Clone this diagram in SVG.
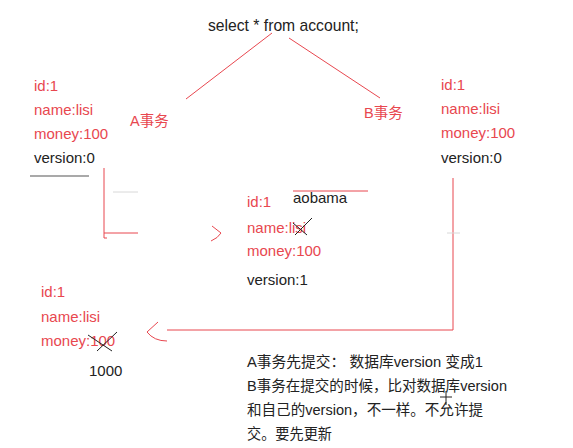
<svg xmlns="http://www.w3.org/2000/svg" width="573" height="448" viewBox="0 0 573 448">
<style>
text{font-family:"Liberation Sans","Noto Sans CJK SC",sans-serif;font-size:15px;fill:#222}
.r{fill:#e8474f}
.lbl{font-size:14.5px}
.note{font-size:14.6px}
.ln{stroke:#e8474f;stroke-width:1;fill:none}
.k{stroke:#222;stroke-width:1;fill:none}
.g{stroke:#d8d8d8;stroke-width:1;fill:none}
</style>
<rect width="573" height="448" fill="#fff"/>
<g id="query"><text x="208" y="31" style="font-size:15.7px">select * from account;</text></g>
<g id="recA">
<text class="r" x="34" y="91">id:1</text>
<text class="r" x="34" y="115">name:lisi</text>
<text class="r" x="34" y="139">money:100</text>
<text x="34" y="163">version:0</text>
<line x1="30" y1="176" x2="89" y2="176" stroke="#555" stroke-width="1.2"/>
</g>
<g id="recB">
<text class="r" x="441" y="90">id:1</text>
<text class="r" x="441" y="114">name:lisi</text>
<text class="r" x="441" y="138">money:100</text>
<text x="441" y="163">version:0</text>
</g>
<g id="labelA"><text class="r lbl" x="130" y="126">A事务</text></g>
<g id="labelB"><text class="r lbl" x="364" y="118">B事务</text></g>
<g id="recMid">
<text class="r" x="247" y="207">id:1</text>
<text class="r" x="247" y="233">name:lisi</text>
<text class="r" x="247" y="256">money:100</text>
<text x="247" y="285">version:1</text>
<text x="293" y="203">aobama</text>
<line class="ln" x1="293" y1="191" x2="368" y2="191"/>
<line class="k" x1="293" y1="223" x2="307" y2="235"/>
<line class="k" x1="295" y1="235" x2="312" y2="218"/>
</g>
<g id="recLow">
<text class="r" x="41" y="297">id:1</text>
<text class="r" x="41" y="322">name:lisi</text>
<text class="r" x="41" y="346">money:100</text>
<text x="89" y="376">1000</text>
<line class="k" x1="88" y1="335" x2="112" y2="351"/>
<line class="k" x1="97" y1="351" x2="117" y2="332"/>
</g>
<g id="note">
<text class="note" x="247" y="367" textLength="236" lengthAdjust="spacingAndGlyphs">A事务先提交： 数据库version 变成1</text>
<text class="note" x="247" y="391" textLength="260" lengthAdjust="spacingAndGlyphs">B事务在提交的时候，比对数据库version</text>
<text class="note" x="247" y="415" textLength="236" lengthAdjust="spacingAndGlyphs">和自己的version，不一样。不允许提</text>
<text class="note" x="247" y="439" textLength="85" lengthAdjust="spacingAndGlyphs">交。要先更新</text>
<line class="k" x1="440" y1="397" x2="452" y2="397"/>
<line class="k" x1="446" y1="391" x2="446" y2="405"/>
</g>
<g id="connectors">
<line class="ln" x1="272" y1="33" x2="186" y2="99"/>
<line class="ln" x1="289" y1="38" x2="380" y2="98"/>
<polyline class="ln" points="104,168 104,238 107,238"/>
<line class="ln" x1="104" y1="233" x2="138" y2="233"/>
<line class="g" x1="113" y1="192" x2="138" y2="192"/>
<path class="ln" d="M212,226 L221,233 Q218,238 211,241"/>
<polyline class="ln" points="453,178 453,330 167,330"/>
<line class="g" x1="447" y1="233" x2="460" y2="233"/>
<path class="ln" d="M158,322 L147,332 Q154,341 167,341"/>
</g>
</svg>
